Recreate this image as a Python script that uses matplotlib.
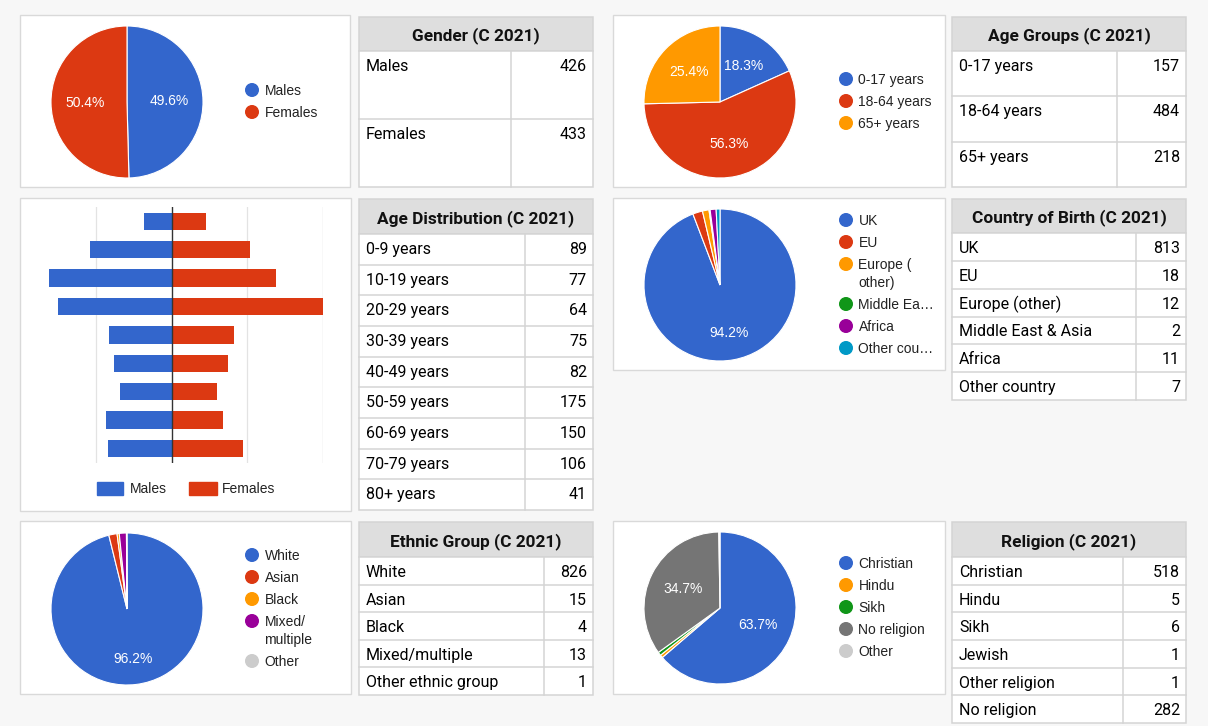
import matplotlib
matplotlib.use('Agg')
import matplotlib.pyplot as plt
from matplotlib.patches import Rectangle, Circle

# ---- data ----
gender_labels = ['Males', 'Females']
gender_values = [426, 433]

age_group_labels = ['0-17 years', '18-64 years', '65+ years']
age_group_values = [157, 484, 218]

age_bands = ['0-9 years', '10-19 years', '20-29 years', '30-39 years', '40-49 years',
             '50-59 years', '60-69 years', '70-79 years', '80+ years']
age_band_totals = [89, 77, 64, 75, 82, 175, 150, 106, 41]
age_males = [42, 43, 34, 38, 41, 75, 81, 54, 18]
age_females = [47, 34, 30, 37, 41, 100, 69, 52, 23]

country_labels = ['UK', 'EU', 'Europe (other)', 'Middle East & Asia', 'Africa', 'Other country']
country_legend = ['UK', 'EU', 'Europe (\nother)', 'Middle Ea\u2026', 'Africa', 'Other cou\u2026']
country_values = [813, 18, 12, 2, 11, 7]

ethnic_labels = ['White', 'Asian', 'Black', 'Mixed/multiple', 'Other ethnic group']
ethnic_legend = ['White', 'Asian', 'Black', 'Mixed/\nmultiple', 'Other']
ethnic_values = [826, 15, 4, 13, 1]

religion_labels = ['Christian', 'Hindu', 'Sikh', 'Jewish', 'Other religion', 'No religion']
religion_values = [518, 5, 6, 1, 1, 282]
religion_pie_labels = ['Christian', 'Hindu', 'Sikh', 'No religion', 'Other']
religion_pie_values = [518, 5, 6, 282, 1 + 1]  # Other = Jewish + Other religion

# colours
BLUE, RED, ORANGE, GREEN, PURPLE, CYAN = '#3366cc', '#dc3912', '#ff9900', '#109618', '#990099', '#0099c6'
GREY, LGREY = '#757575', '#cccccc'

plt.rcParams['font.family'] = ['Liberation Sans', 'DejaVu Sans']
TFONT = ['Roboto', 'DejaVu Sans']

W, H = 1208, 726
fig = plt.figure(figsize=(W / 100, H / 100), dpi=100)
fig.patch.set_facecolor('#f7f7f7')

# background axes in pixel coordinates
bg = fig.add_axes([0, 0, 1, 1])
bg.set_xlim(0, W)
bg.set_ylim(H, 0)
bg.axis('off')


def panel(x0, y0, x1, y1):
    bg.add_patch(Rectangle((x0, y0), x1 - x0, y1 - y0, facecolor='white',
                           edgecolor='#d9d9d9', linewidth=1))


def pie_at(cx, cy, r, values, colors, pctdist):
    ax = fig.add_axes([(cx - r) / W, 1 - (cy + r) / H, 2 * r / W, 2 * r / H])
    ax.pie(values, colors=colors, startangle=90, counterclock=False,
           autopct=lambda p: f'{p:.1f}%' if p >= 5 else '', pctdistance=pctdist,
           wedgeprops=dict(edgecolor='white', linewidth=0.8),
           textprops=dict(color='white', fontsize=10))
    ax.set_xlim(-1, 1)
    ax.set_ylim(-1, 1)
    ax.set_facecolor('none')
    return ax


def pie_legend(xd, y, labels, colors, pitch=22, extra=18):
    for lab, c in zip(labels, colors):
        bg.add_patch(Circle((xd, y), 6.3, color=c))
        lines = lab.split('\n')
        for k, line in enumerate(lines):
            bg.text(xd + 12.5, y + 5 + k * extra, line, fontsize=10, color='#222222', va='baseline')
        y += pitch + extra * (len(lines) - 1)


def draw_table(x0, x1, xs, y0, hb, yb, title, labels, values):
    lc = '#d4d4d4'
    bg.add_patch(Rectangle((x0, y0), x1 - x0, hb - y0, facecolor='#dedede', edgecolor=lc, linewidth=1.1))
    bg.add_patch(Rectangle((x0, hb), x1 - x0, yb - hb, facecolor='white', edgecolor=lc, linewidth=1.1))
    bg.text((x0 + x1) / 2, (y0 + hb) / 2 + 6.5, title, family=TFONT, fontsize=12.4,
            fontweight='bold', ha='center', va='baseline', color='#111111')
    n = len(labels)
    rh = (yb - hb) / n
    bg.plot([xs, xs], [hb, yb], color=lc, lw=1.1)
    for i, (lab, v) in enumerate(zip(labels, values)):
        top = hb + i * rh
        if i > 0:
            bg.plot([x0, x1], [top, top], color=lc, lw=1.1)
        bg.text(x0 + 7, top + 20, lab, family=TFONT, fontsize=11.5, va='baseline', color='#000000')
        bg.text(x1 - 6, top + 20, str(v), family=TFONT, fontsize=11.5, va='baseline',
                ha='right', color='#000000')


# ---- panels ----
panel(20, 15, 350, 187)
panel(613, 15, 945, 187)
panel(20, 198, 351, 511)
panel(613, 198, 945, 370)
panel(20, 521, 351, 694)
panel(613, 521, 945, 694)

# ---- pies ----
pie_at(127, 102, 76, gender_values, [BLUE, RED], 0.55)
pie_legend(252, 90, gender_labels, [BLUE, RED])

pie_at(720, 102, 76, age_group_values, [BLUE, RED, ORANGE], 0.57)
pie_legend(846, 79, age_group_labels, [BLUE, RED, ORANGE])

country_colors = [BLUE, RED, ORANGE, GREEN, PURPLE, CYAN]
pie_at(720, 285, 76, country_values, country_colors, 0.64)
pie_legend(846, 220, country_legend, country_colors)

ethnic_colors = [BLUE, RED, ORANGE, PURPLE, LGREY]
pie_at(127, 609, 76, ethnic_values, ethnic_colors, 0.66)
pie_legend(252, 555, ethnic_legend, ethnic_colors)

religion_colors = [BLUE, ORANGE, GREEN, GREY, LGREY]
pie_at(720, 608, 76, religion_pie_values, religion_colors, 0.55)
pie_legend(846, 563, religion_pie_labels, religion_colors)

# ---- age pyramid ----
ax_b = fig.add_axes([19.7 / W, 1 - 462.7 / H, (323.3 - 19.7) / W, (462.7 - 207) / H])
ypos = list(range(len(age_bands)))
ax_b.barh(ypos, [-m for m in age_males], height=0.61, color=BLUE, zorder=2)
ax_b.barh(ypos, age_females, height=0.61, color=RED, zorder=2)
ax_b.set_xlim(-100, 100)
ax_b.set_ylim(-0.5, len(age_bands) - 0.5)
for gx in [-50, 50]:
    ax_b.axvline(gx, color='#e3e3e3', lw=0.9, zorder=1)
ax_b.axvline(100, color='#cfcfcf', lw=0.9, zorder=1)
ax_b.axvline(0, color='#333333', lw=1.0, zorder=3)
ax_b.set_xticks([])
ax_b.set_yticks([])
for s in ax_b.spines.values():
    s.set_visible(False)
ax_b.set_facecolor('none')

# pyramid legend
bg.add_patch(Rectangle((96.7, 481.7), 26.6, 13.3, color=BLUE))
bg.text(130, 493, 'Males', fontsize=10, color='#222222', va='baseline')
bg.add_patch(Rectangle((189, 481.7), 27.6, 13.3, color=RED))
bg.text(222, 493, 'Females', fontsize=10, color='#222222', va='baseline')

# ---- tables ----
draw_table(359, 593, 511, 17, 51, 187, 'Gender (C 2021)', gender_labels, gender_values)
draw_table(952, 1186, 1117, 17, 51, 187, 'Age Groups (C 2021)', age_group_labels, age_group_values)
draw_table(359, 593, 525, 199, 234, 510, 'Age Distribution (C 2021)', age_bands, age_band_totals)
draw_table(952, 1186, 1136, 199, 233, 400, 'Country of Birth (C 2021)', country_labels, country_values)
draw_table(359, 593, 544, 522, 557, 695, 'Ethnic Group (C 2021)', ethnic_labels, ethnic_values)
draw_table(952, 1186, 1123, 522, 557, 723, 'Religion (C 2021)', religion_labels, religion_values)

fig.savefig('out.png', dpi=100, facecolor=fig.get_facecolor())
